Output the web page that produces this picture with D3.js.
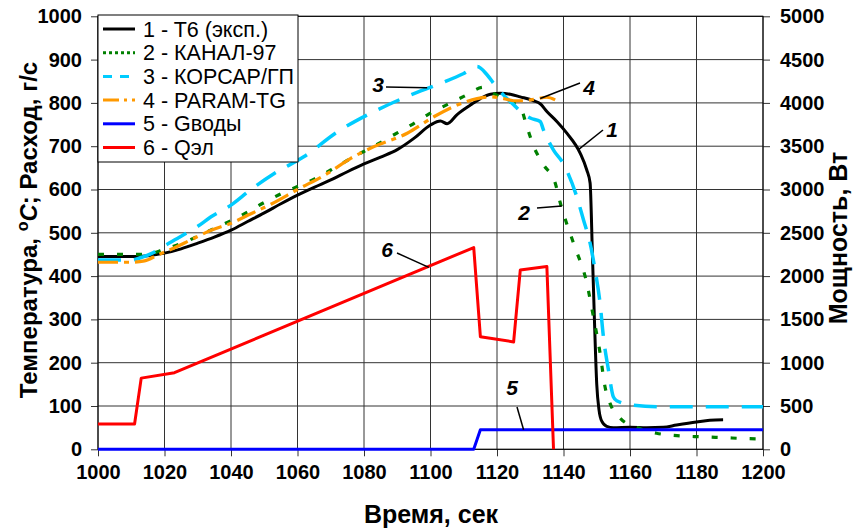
<!DOCTYPE html>
<html>
<head>
<meta charset="utf-8">
<script src="https://cdn.jsdelivr.net/npm/d3@7"></script>
<style>
body { margin: 0; background: #fff; }
text { font-family: "Liberation Sans", Arial, sans-serif; }
</style>
</head>
<body>
<div class="chart"></div>
<script>
// time axis, s
var xTicks = [1000, 1020, 1040, 1060, 1080, 1100, 1120, 1140, 1160, 1180, 1200]
var yTicks = [0, 100, 200, 300, 400, 500, 600, 700, 800, 900, 1000]
var y2Ticks = [0, 500, 1000, 1500, 2000, 2500, 3000, 3500, 4000, 4500, 5000]

var seriesNames = ['1 - T6 (эксп.)', '2 - КАНАЛ-97', '3 - КОРСАР/ГП', '4 - PARAM-TG', '5 - Gводы', '6 - Qэл']

// 1 - T6 exp, °C
var t1 = [1000, 1010, 1015, 1020, 1025, 1030, 1035, 1040, 1045, 1050, 1055, 1060, 1065, 1070, 1075, 1080, 1085, 1090, 1095, 1100, 1103, 1105, 1108, 1112, 1115, 1118, 1121, 1124, 1127, 1131, 1133, 1135, 1138, 1141, 1145, 1147, 1148, 1148.7, 1149.3, 1150, 1150.7, 1151.5, 1153, 1155, 1160, 1165, 1170, 1174, 1180, 1184, 1188]
var v1 = [445, 445, 447, 453, 463, 476, 490, 506, 526, 546, 567, 587, 605, 622, 641, 659, 675, 692, 718, 749, 758, 752, 773, 795, 810, 820, 822, 820, 814, 805, 798, 780, 757, 730, 684, 645, 615, 450, 300, 150, 90, 65, 53, 50, 51, 50, 51, 56, 63, 67, 68]
// 2 - КАНАЛ-97
var t2 = [1000, 1010, 1015, 1020, 1025, 1030, 1035, 1040, 1045, 1050, 1055, 1060, 1065, 1070, 1077, 1083, 1088, 1094, 1099, 1105, 1110, 1116, 1119, 1123, 1127, 1129, 1131, 1134, 1137.5, 1139, 1143, 1147, 1149, 1151, 1152.5, 1154, 1157, 1162.5, 1168, 1175, 1181, 1188, 1194, 1200]
var v2 = [450, 450, 451, 462, 475, 492, 510, 528, 548, 570, 590, 607, 624, 645, 676, 700, 722, 748, 772, 796, 815, 836, 822, 805, 790, 745, 700, 657, 615, 570, 476, 384, 306, 222, 144, 106, 72, 49, 37, 31, 29, 27, 25, 24]
// 3 - КОРСАР/ГП
var t3 = [1000, 1010, 1013, 1016, 1020, 1025, 1030, 1034, 1040, 1046, 1053, 1062, 1072, 1083, 1093, 1103, 1110, 1114, 1117, 1119, 1122, 1125, 1127.6, 1130, 1133, 1134, 1137, 1140, 1144, 1146, 1148, 1149.5, 1151, 1152, 1153.5, 1155, 1156, 1161, 1170, 1200]
var v3 = [437, 437, 443, 452, 470, 492, 515, 537, 564, 600, 637, 676, 733, 780, 815, 845, 868, 884, 865, 845, 818, 796, 777, 765, 757, 737, 691, 659, 583, 530, 476, 414, 337, 260, 184, 121, 112, 102, 98, 98]
// 4 - PARAM-TG
var t4 = [1000, 1010, 1014, 1018, 1022, 1028, 1034, 1040, 1046, 1052, 1060, 1069, 1076, 1083, 1093, 1101, 1108, 1114, 1118, 1122, 1125, 1128, 1131, 1135, 1137.5]
var v4 = [432, 432, 435, 449, 462, 484, 506, 522, 544, 566, 600, 637, 672, 699, 730, 768, 795, 810, 814, 810, 805, 805, 808, 813, 807]
// 5 - Gводы, г/с
var t5 = [1000, 1113, 1115, 1200]
var v5 = [0, 0, 45, 45]
// 6 - Qэл, Вт (right axis)
var t6 = [1000, 1011, 1013, 1023, 1113, 1115, 1125, 1127, 1135, 1137]
var v6 = [292, 292, 822, 885, 2330, 1300, 1240, 2070, 2110, 0]

var margin = { top: 16.3, left: 98, right: 95, bottom: 81.7 }
var W = 858, H = 531
var width = W - margin.left - margin.right
var height = H - margin.top - margin.bottom

var svg = d3.select('.chart').append('svg')
    .attr('width', W)
    .attr('height', H)

var x = d3.scaleLinear().domain([1000, 1200]).range([margin.left, margin.left + width])
var y = d3.scaleLinear().domain([0, 1000]).range([margin.top + height, margin.top])
var y2 = d3.scaleLinear().domain([0, 5000]).range([margin.top + height, margin.top])

// grid
svg.append('g').selectAll('line').data(xTicks).enter().append('line')
    .attr('x1', function(d) { return x(d) }).attr('x2', function(d) { return x(d) })
    .attr('y1', margin.top).attr('y2', margin.top + height)
    .attr('stroke', '#333').attr('stroke-width', 1)
svg.append('g').selectAll('line').data(yTicks).enter().append('line')
    .attr('x1', margin.left).attr('x2', margin.left + width)
    .attr('y1', function(d) { return y(d) }).attr('y2', function(d) { return y(d) })
    .attr('stroke', '#333').attr('stroke-width', 1)

// axes
var xAxis = svg.append('g')
    .attr('transform', 'translate(0,' + (margin.top + height) + ')')
    .call(d3.axisBottom(x).tickValues(xTicks).tickSize(7).tickPadding(9).tickFormat(d3.format('d')))
var yAxis = svg.append('g')
    .attr('transform', 'translate(' + margin.left + ',0)')
    .call(d3.axisLeft(y).tickValues(yTicks).tickSize(7).tickPadding(9).tickFormat(d3.format('d')))
var y2Axis = svg.append('g')
    .attr('transform', 'translate(' + (margin.left + width) + ',0)')
    .call(d3.axisRight(y2).tickValues(y2Ticks).tickSize(7).tickPadding(10).tickFormat(d3.format('d')))

;[xAxis, yAxis, y2Axis].forEach(function(a) {
    a.select('.domain').remove()
    a.selectAll('.tick line').attr('stroke', '#333')
    a.selectAll('text')
        .style('font-family', '"Liberation Sans", Arial, sans-serif')
        .style('font-size', '20px')
        .style('font-weight', 'bold')
        .attr('fill', '#000')
})

svg.append('rect')
    .attr('x', margin.left).attr('y', margin.top)
    .attr('width', width).attr('height', height)
    .attr('fill', 'none').attr('stroke', '#000').attr('stroke-width', 1)

// clip
svg.append('clipPath').attr('id', 'plot')
    .append('rect')
    .attr('x', margin.left).attr('y', margin.top - 2)
    .attr('width', width).attr('height', height + 4)

var styles = [
    { color: '#000000', dash: null, w: 3 },
    { color: '#008000', dash: '6,13', w: 3.2 },
    { color: '#00ccff', dash: '23,13', w: 3.5 },
    { color: '#ff9900', dash: '20,6,5,6', w: 3.2 },
    { color: '#0000ff', dash: null, w: 3 },
    { color: '#ff0000', dash: null, w: 3 }
]

var tSets = [t1, t2, t3, t4, t5, t6]
var vSets = [v1, v2, v3, v4, v5, v6]

var plot = svg.append('g').attr('clip-path', 'url(#plot)')
tSets.forEach(function(ts, i) {
    var scaleY = i === 5 ? y2 : y
    var pts = ts.map(function(t, k) { return [t, vSets[i][k]] })
    var line = d3.line()
        .x(function(d) { return x(d[0]) })
        .y(function(d) { return scaleY(d[1]) })
    var curve = (i < 4) ? d3.curveMonotoneX : d3.curveLinear
    line.curve(curve)
    plot.append('path')
        .datum(pts)
        .attr('d', line)
        .attr('fill', 'none')
        .attr('stroke', styles[i].color)
        .attr('stroke-width', styles[i].w)
        .attr('stroke-dasharray', styles[i].dash)
        .attr('stroke-linejoin', 'round')
})

// callout labels
var callouts = [
    { label: '3', tx: 378, ty: 92, x1: 386, y1: 87, t: 1099, v: 835, s: 0 },
    { label: '4', tx: 589, ty: 95, x1: 580, y1: 83, t: 1133, v: 810, s: 0 },
    { label: '1', tx: 612, ty: 137, x1: 603, y1: 130, t: 1144.5, v: 692, s: 0 },
    { label: '2', tx: 524, ty: 220, x1: 537, y1: 208, t: 1139.5, v: 562, s: 0 },
    { label: '5', tx: 512, ty: 395, x1: 517, y1: 407, t: 1128, v: 45, s: 0 },
    { label: '6', tx: 387, ty: 257, x1: 397, y1: 253, t: 1099.5, v: 2100, s: 1 }
]
callouts.forEach(function(c) {
    var sy = c.s ? y2 : y
    svg.append('line')
        .attr('x1', c.x1).attr('y1', c.y1)
        .attr('x2', x(c.t)).attr('y2', sy(c.v))
        .attr('stroke', '#000').attr('stroke-width', 1.5)
    svg.append('text')
        .attr('x', c.tx).attr('y', c.ty)
        .attr('text-anchor', 'middle')
        .style('font-size', '21px')
        .style('font-weight', 'bold')
        .style('font-style', 'italic')
        .text(c.label)
})

// legend
var lg = svg.append('g').attr('transform', 'translate(98,15)')
lg.append('rect')
    .attr('width', 200).attr('height', 147)
    .attr('fill', '#fff').attr('stroke', '#000').attr('stroke-width', 1)
seriesNames.forEach(function(name, i) {
    var cy = 14 + i * 23.7
    var dash = [null, '3,3', '9,8', '16,5,3,5', null, null][i]
    lg.append('line')
        .attr('x1', 5).attr('x2', 37)
        .attr('y1', cy).attr('y2', cy)
        .attr('stroke', styles[i].color)
        .attr('stroke-width', 3)
        .attr('stroke-dasharray', dash)
    lg.append('text')
        .attr('x', 45).attr('y', cy + 7.5)
        .style('font-size', '21.5px')
        .text(name)
})

// axis titles
svg.append('text')
    .attr('x', 431).attr('y', 523)
    .attr('text-anchor', 'middle')
    .style('font-size', '25px').style('font-weight', 'bold')
    .text('Время, сек')

var lt = svg.append('text')
    .attr('transform', 'translate(37,230) rotate(-90)')
    .attr('text-anchor', 'middle')
    .style('font-size', '24px').style('font-weight', 'bold')
lt.append('tspan').text('Температура, ')
lt.append('tspan').attr('dy', -9).style('font-size', '16px').text('o')
lt.append('tspan').attr('dy', 9).style('font-style', 'italic').text('C')
lt.append('tspan').text('; Расход, г/с')

svg.append('text')
    .attr('transform', 'translate(847,238) rotate(-90)')
    .attr('text-anchor', 'middle')
    .style('font-size', '25px').style('font-weight', 'bold')
    .text('Мощность, Вт')
</script>
</body>
</html>
